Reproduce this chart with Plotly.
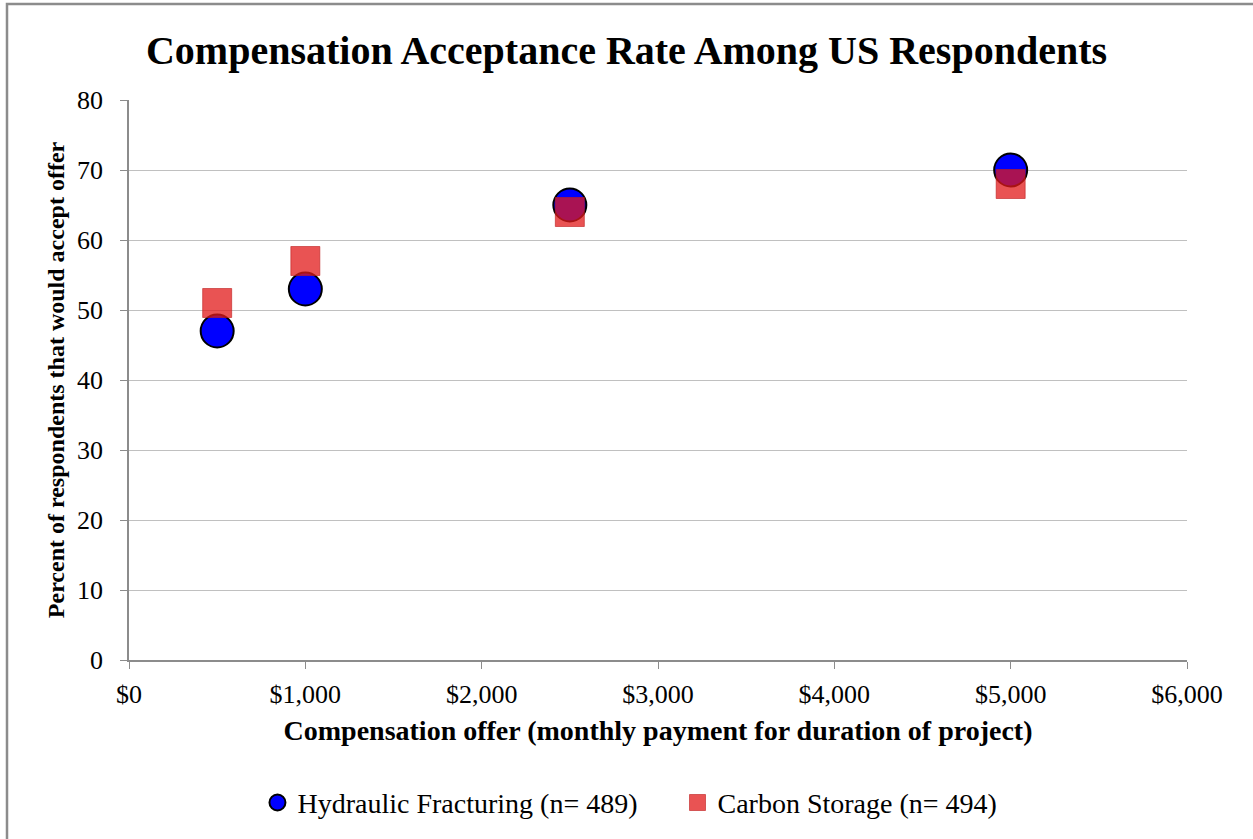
import plotly.graph_objects as go

offers = [500, 1000, 2500, 5000]
hydraulic = [47, 53, 65, 70]
carbon = [51, 57, 64, 68]
series_names = ["Hydraulic Fracturing (n= 489)", "Carbon Storage (n= 494)"]
title_text = "Compensation Acceptance Rate Among US Respondents"
x_title = "Compensation offer (monthly payment for duration of project)"
y_title = "Percent of respondents that would accept offer"

FONT = "Liberation Serif"
PAD = "\u00a0" * 5  # extra spacing after the first legend entry

fig = go.Figure()
fig.add_trace(go.Scatter(
    x=offers, y=hydraulic, mode="markers", name=series_names[0] + PAD,
    marker=dict(symbol="circle", size=33, color="#0000ff",
                line=dict(color="black", width=2)),
))
fig.add_trace(go.Scatter(
    x=offers, y=carbon, mode="markers", name=series_names[1],
    marker=dict(symbol="square", size=29, color="rgba(225,25,25,0.75)",
                line=dict(color="rgba(190,30,30,0.6)", width=1)),
))

fig.update_layout(
    width=1253, height=839,
    margin=dict(l=129, r=66, t=100, b=179, autoexpand=False),
    paper_bgcolor="white", plot_bgcolor="white",
    font=dict(family=FONT, size=26, color="black"),
    title=dict(text="<b>" + title_text + "</b>", x=0.5, xanchor="center",
               y=1 - 50 / 839, yanchor="middle",
               font=dict(family=FONT, size=40, color="black")),
    xaxis=dict(
        range=[0, 6000], dtick=1000, tick0=0, tickprefix="$", tickformat=",d",
        showgrid=False, zeroline=False, showline=True, linecolor="#8c8c8c",
        linewidth=1.5, ticks="outside", ticklen=7, tickcolor="#8c8c8c",
        ticklabelstandoff=3,
        tickfont=dict(family=FONT, size=26),
        title=dict(text="<b>" + x_title + "</b>", standoff=12,
                   font=dict(family=FONT, size=28)),
    ),
    yaxis=dict(
        range=[0, 80], dtick=10, tick0=0,
        showgrid=True, gridcolor="#c0c0c0", gridwidth=1,
        zeroline=False, showline=True, linecolor="#8c8c8c", linewidth=1.5,
        ticks="outside", ticklen=7, tickcolor="#8c8c8c",
        ticklabelstandoff=12,
        tickfont=dict(family=FONT, size=26),
        title=dict(text="<b>" + y_title + "</b>", standoff=6,
                   font=dict(family=FONT, size=24)),
    ),
    legend=dict(orientation="h", x=0.4735, xanchor="center", y=-0.255,
                yanchor="middle", font=dict(family=FONT, size=28),
                itemsizing="trace", itemwidth=30, tracegroupgap=0),
    showlegend=True,
)

fig.add_shape(type="rect", xref="paper", yref="paper",
              x0=(7 - 129) / 1058, x1=1.3, y0=-0.6, y1=(660 - 4) / 560,
              line=dict(color="#8c8c8c", width=2.5), fillcolor="rgba(0,0,0,0)",
              layer="below")

fig.write_html("out.html", config={"displayModeBar": False},
               post_script="document.body.style.margin='0px';document.body.style.overflow='hidden';")
